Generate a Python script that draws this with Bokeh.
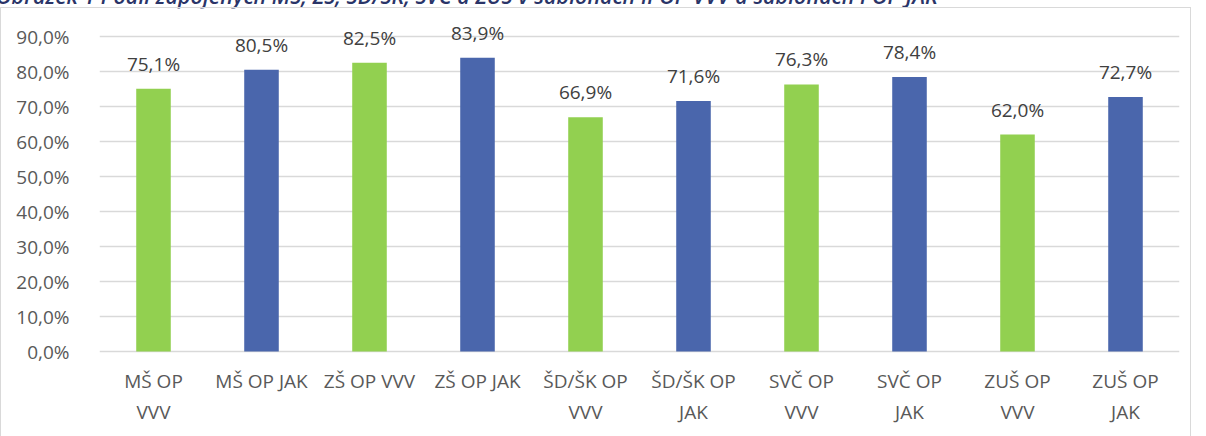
from bokeh.plotting import figure
from bokeh.models import ColumnDataSource, FactorRange, Range1d, FixedTicker, CustomJSTickFormatter, Div
from bokeh.layouts import column
from bokeh.embed import file_html
from bokeh.resources import INLINE
from bokeh.core.properties import value

title_text = "Obrázek 1 Podíl zapojených MŠ, ZŠ, ŠD/ŠK, SVČ a ZUŠ v šablonách II OP VVV a šablonách I OP JAK"

categories = ["MŠ OP VVV", "MŠ OP JAK", "ZŠ OP VVV", "ZŠ OP JAK", "ŠD/ŠK OP VVV",
              "ŠD/ŠK OP JAK", "SVČ OP VVV", "SVČ OP JAK", "ZUŠ OP VVV", "ZUŠ OP JAK"]
tick_labels = ["MŠ OP\nVVV", "MŠ OP JAK", "ZŠ OP VVV", "ZŠ OP JAK", "ŠD/ŠK OP\nVVV",
               "ŠD/ŠK OP\nJAK", "SVČ OP\nVVV", "SVČ OP\nJAK", "ZUŠ OP\nVVV", "ZUŠ OP\nJAK"]
values = [75.1, 80.5, 82.5, 83.9, 66.9, 71.6, 76.3, 78.4, 62.0, 72.7]
programmes = ["VVV", "JAK", "VVV", "JAK", "VVV", "JAK", "VVV", "JAK", "VVV", "JAK"]
y_ticks = [0, 10, 20, 30, 40, 50, 60, 70, 80, 90]

palette = {"VVV": "#92d050", "JAK": "#4a66ac"}
FONT = "Open Sans"

# frame geometry: 315 px for 0..90 -> 3.5 px per unit
PX_PER_UNIT = 315 / 90
TOP_PX = 28
BOTTOM_PX = 87

src = ColumnDataSource(dict(
    cat=categories,
    val=values,
    zero=[0] * len(values),
    color=[palette[p] for p in programmes],
    label=[("%.1f%%" % v).replace(".", ",") for v in values],
    tick=tick_labels,
))

p = figure(width=1191, height=430, x_range=FactorRange(*categories, range_padding=0),
           y_range=Range1d(-BOTTOM_PX / PX_PER_UNIT, 90 + TOP_PX / PX_PER_UNIT),
           output_backend="svg", toolbar_location=None,
           min_border_left=98, min_border_right=13, min_border_top=0, min_border_bottom=0)
p.styles = {"border": "1px solid #d9d9d9"}
p.outline_line_color = None
p.background_fill_color = "white"
p.border_fill_color = "white"
p.xaxis.visible = False

p.vbar(x="cat", top="val", width=0.32, source=src, color="color", line_color=None)

p.text(x="cat", y="val", text="label", source=src, text_align="center",
       text_baseline="bottom", y_offset=-12, text_color="#404040",
       text_font=value(FONT), text_font_size="19px")

p.text(x="cat", y="zero", text="tick", source=src, text_align="center",
       text_baseline="top", y_offset=16, text_color="#595959", text_line_height=1.2,
       text_font=value(FONT), text_font_size="19px")

p.xgrid.grid_line_color = None
p.ygrid.grid_line_color = "#d9d9d9"
p.ygrid.grid_line_width = 1.3
p.ygrid.ticker = FixedTicker(ticks=y_ticks)

p.yaxis.ticker = FixedTicker(ticks=y_ticks)
p.yaxis.formatter = CustomJSTickFormatter(code="return tick.toFixed(1).replace('.', ',') + '%';")
p.yaxis.axis_line_color = None
p.yaxis.major_tick_line_color = None
p.yaxis.minor_tick_line_color = None
p.yaxis.major_label_standoff = 24
p.yaxis.major_label_text_color = "#595959"
p.yaxis.major_label_text_font = FONT
p.yaxis.major_label_text_font_size = "19px"

title = Div(text=title_text, width=1190, height=20, margin=(-13, 0, 0, -4),
            styles={"font-family": FONT, "font-style": "italic", "font-weight": "600",
                    "font-size": "21.5px", "line-height": "18px", "color": "#2a3468",
                    "white-space": "nowrap"})

layout = column(title, p, spacing=0)
open("out.html", "w").write(file_html(layout, INLINE))
